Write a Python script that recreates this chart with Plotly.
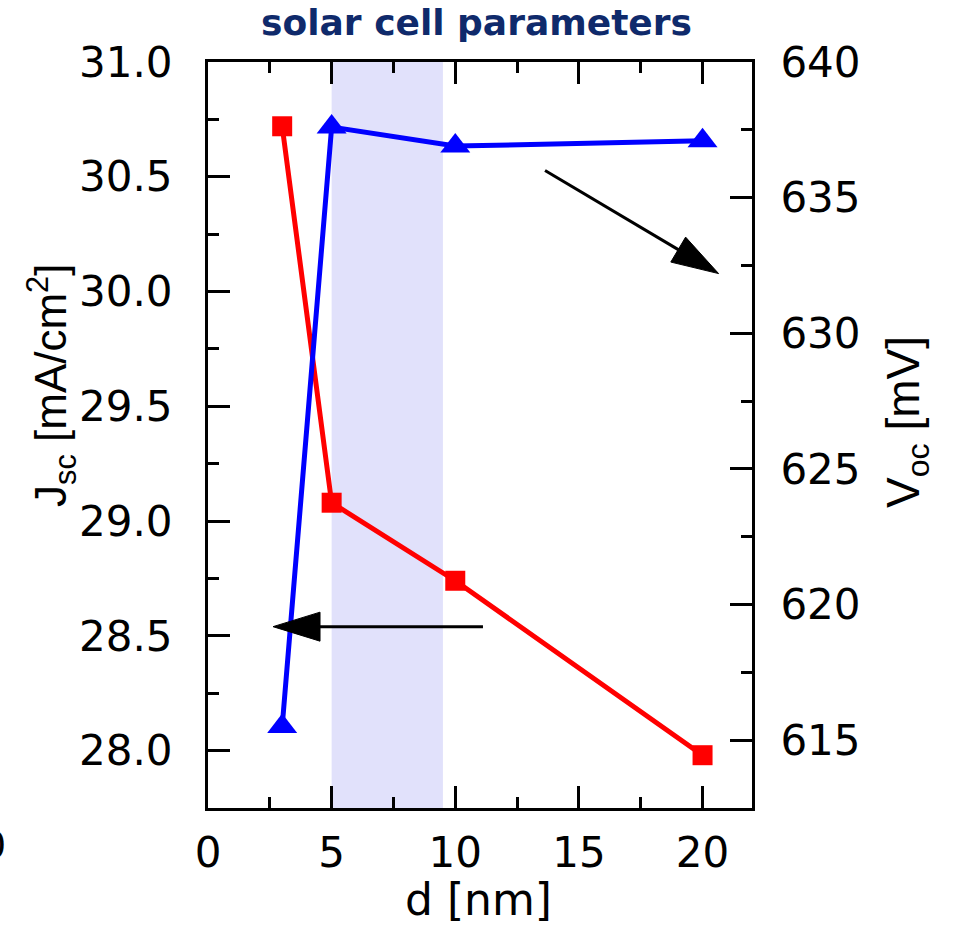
import plotly.graph_objects as go

# Layer thickness and measured cell parameters
d_nm = [3, 5, 10, 20]
jsc = [30.72, 29.08, 28.74, 27.98]          # short-circuit current density [mA/cm^2]
voc = [615.5, 637.6, 636.9, 637.1]          # open-circuit voltage [mV]

# Highlighted thickness window
band = [5, 9.5]

# Axis ranges and tick steps (major, minor)
x_range = [0, 22]
jsc_range = [27.75, 31.0]
voc_range = [612.5, 640]
x_step = (5, 2.5)
jsc_step = (0.5, 0.25)
voc_step = (5, 2.5)

# Guide arrows: (tail, tip, axis the arrow points to)
arrows = [
    ((13.63, 636.0), (20.65, 632.2), "y2"),
    ((11.12, 28.54), (2.63, 28.54), "y"),
]

W, H = 955, 925
L, R, T, B = 208, 203, 62, 117
PW, PH = W - L - R, H - T - B

TICK_FONT = dict(family="DejaVu Sans", size=42, color="black")

fig = go.Figure()

fig.add_trace(go.Scatter(
    x=d_nm, y=jsc, mode="lines+markers", yaxis="y",
    line=dict(color="#ff0000", width=5),
    marker=dict(symbol="square", size=20, color="#ff0000"),
))
fig.add_trace(go.Scatter(
    x=d_nm, y=voc, mode="lines+markers", yaxis="y2",
    line=dict(color="#0000ff", width=5),
    marker=dict(symbol="triangle-up", size=26, color="#0000ff"),
))

fig.add_vrect(x0=band[0], x1=band[1], fillcolor="#e1e1fb", line_width=0,
              layer="below")


def axis_style(step, **kw):
    base = dict(
        dtick=step[0],
        ticks="inside", ticklen=22, tickwidth=3, tickcolor="black",
        showline=True, linecolor="black", linewidth=3,
        showgrid=False, zeroline=False, tickfont=TICK_FONT,
        minor=dict(dtick=step[1], ticks="inside", ticklen=11, tickwidth=3,
                   tickcolor="black", showgrid=False),
    )
    base.update(kw)
    return base


fig.update_layout(
    width=W, height=H,
    margin=dict(l=L, r=R, t=T, b=B, pad=0),
    paper_bgcolor="white", plot_bgcolor="white",
    showlegend=False,
    title=dict(
        text="<b>solar cell parameters</b>",
        font=dict(family="DejaVu Sans", size=36, color="#0f2a6b"),
        xref="container", yref="container",
        x=476.5 / W, y=1 - 22 / H, xanchor="center", yanchor="middle",
    ),
    xaxis=axis_style(x_step, range=x_range, tick0=0, mirror="ticks",
                     ticklabelstandoff=6),
    yaxis=axis_style(jsc_step, range=jsc_range, tick0=28, tickformat=".1f",
                     ticklabelstandoff=24),
    yaxis2=axis_style(voc_step, range=voc_range, tick0=615, overlaying="y",
                      side="right", ticklabelstandoff=17),
)

# Axis titles
fig.add_annotation(
    text="d [nm]", xref="paper", yref="paper",
    x=(478 - L) / PW, y=(PH + T - 899) / PH,
    showarrow=False, xanchor="center", yanchor="middle",
    font=dict(family="DejaVu Sans", size=44, color="black"),
)
fig.add_annotation(
    text="J<sub>sc</sub> [mA/cm<sup>2</sup>]", xref="paper", yref="paper",
    x=(52 - L) / PW, y=(PH + T - 385) / PH, textangle=-90,
    showarrow=False, xanchor="center", yanchor="middle",
    font=dict(family="Liberation Sans", size=44, color="black"),
)
fig.add_annotation(
    text="V<sub>oc</sub> [mV]", xref="paper", yref="paper",
    x=(906 - L) / PW, y=(PH + T - 422) / PH, textangle=-90,
    showarrow=False, xanchor="center", yanchor="middle",
    font=dict(family="Liberation Sans", size=46, color="black"),
)
# Clipped tick label at the left edge
fig.add_annotation(
    text="0", xref="paper", yref="paper",
    x=(8 - L) / PW, y=(PH + T - 845) / PH,
    showarrow=False, xanchor="right", yanchor="middle",
    font=dict(family="DejaVu Sans", size=38, color="black"),
)

# Arrows: shaft as a line, head as a pixel-sized triangle at the tip
HEAD_LEN, HEAD_HALF = 47, 14.5
ranges = {"y": jsc_range, "y2": voc_range}
for (tx, ty), (hx, hy), yref in arrows:
    yr = ranges[yref]
    sx = PW / (x_range[1] - x_range[0])
    sy = PH / (yr[1] - yr[0])
    dx, dy = (hx - tx) * sx, (hy - ty) * sy
    n = (dx ** 2 + dy ** 2) ** 0.5
    ux, uy = dx / n, dy / n
    bx, by = -HEAD_LEN * ux, -HEAD_LEN * uy
    px, py = -uy * HEAD_HALF, ux * HEAD_HALF
    fig.add_shape(type="line", xref="x", yref=yref,
                  x0=tx, y0=ty,
                  x1=hx - (HEAD_LEN - 4) * ux / sx,
                  y1=hy - (HEAD_LEN - 4) * uy / sy,
                  line=dict(color="black", width=3))
    path = (f"M0,0 L{bx + px:.2f},{by + py:.2f} "
            f"L{bx - px:.2f},{by - py:.2f} Z")
    fig.add_shape(type="path", xref="x", yref=yref,
                  xsizemode="pixel", ysizemode="pixel",
                  xanchor=hx, yanchor=hy, path=path,
                  fillcolor="black", line=dict(color="black", width=1))

fig.write_html("out.html")
